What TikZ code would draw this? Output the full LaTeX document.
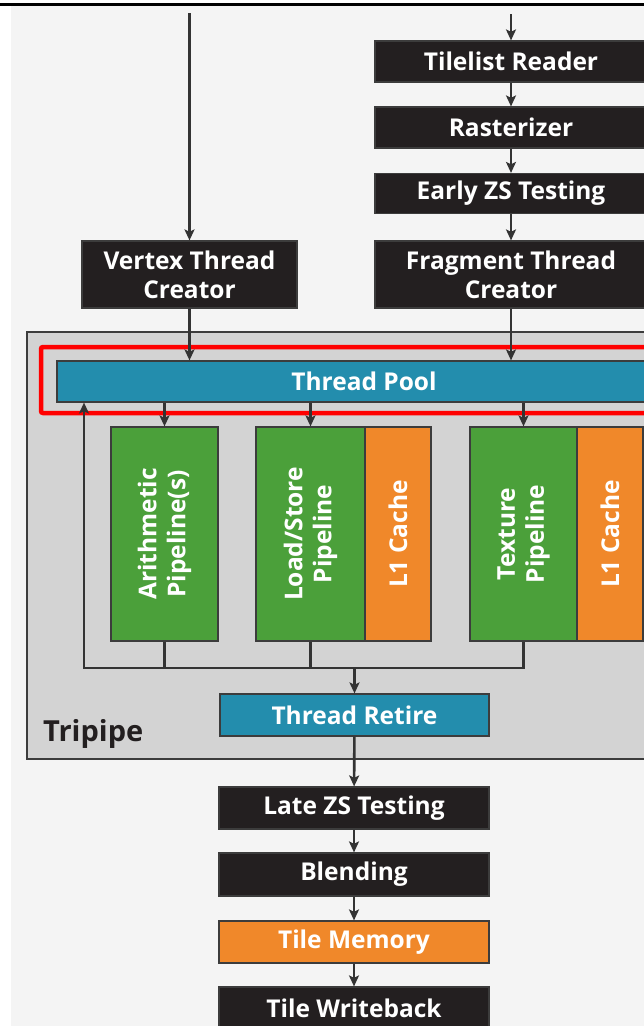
\documentclass[tikz,border=0pt]{standalone}
\usepackage{fontspec}
\setmainfont{Open Sans}
\usetikzlibrary{arrows.meta}
\definecolor{bg}{HTML}{F4F4F4}
\definecolor{boxdark}{HTML}{231F20}
\definecolor{pipegreen}{HTML}{4BA03A}
\definecolor{cacheorange}{HTML}{F0882A}
\definecolor{poolteal}{HTML}{238DAD}
\definecolor{tripipefill}{HTML}{D3D3D3}
\definecolor{edgegray}{HTML}{3C3C3C}
\definecolor{linegray}{HTML}{333333}
\newcommand{\boxfont}{\bfseries\fontsize{24.5}{29}\selectfont}
\tikzset{
  box/.style={draw=edgegray, line width=1.2pt, inner sep=0pt, align=center,
    text=white, font=\boxfont},
  darkbox/.style={box, fill=boxdark},
  tealbox/.style={box, fill=poolteal},
  orangebox/.style={box, fill=cacheorange},
  greenbox/.style={box, fill=pipegreen},
  vlabel/.style={rotate=90, text=white, font=\boxfont, align=center, inner sep=0pt},
  conn/.style={draw=linegray, line width=2.6pt},
  arr/.style={conn, -{Stealth[length=11pt,width=10pt,inset=2.5pt]}},
}
\begin{document}
\begin{tikzpicture}[x=1pt,y=-1pt]
\useasboundingbox (0,0) rectangle (644,1026);
\clip (0,0) rectangle (644,1026);
% page background
\fill[white] (0,0) rectangle (644,1026);
\fill[bg] (11,6) rectangle (644,1026);
\draw[black, line width=3pt] (0,4.5) -- (644,4.5);
% Tripipe region
\draw[draw=edgegray, fill=tripipefill, line width=2pt] (27,332) rectangle (720,759);
\node[anchor=base west, text=boxdark, font=\bfseries\fontsize{29}{34}\selectfont, inner sep=0pt] (tripipe) at (43,741) {Tripipe};
% highlight
\draw[red, line width=4.5pt, rounded corners=2pt] (41,347) rectangle (700,413);
% nodes
\node[darkbox, minimum width=272pt, minimum height=41pt] (tilelist) at (511,61.5) {Tilelist Reader};
\node[darkbox, minimum width=272pt, minimum height=41pt] (raster) at (511,127.5) {Rasterizer};
\node[darkbox, minimum width=272pt, minimum height=40pt] (early) at (511,193.5) {Early ZS Testing};
\node[darkbox, minimum width=272pt, minimum height=67pt] (frag) at (511,274.5) {Fragment Thread\\Creator};
\node[darkbox, minimum width=215pt, minimum height=67pt] (vtc) at (189.5,274.5) {Vertex Thread\\Creator};
\node[tealbox, minimum width=614pt, minimum height=41pt] (pool) at (364,381.5) {Thread Pool};
\node[greenbox, minimum width=107pt, minimum height=214pt] (arith) at (164.5,534) {};
\node[vlabel] at (arith.center) {Arithmetic\\Pipeline(s)};
\node[greenbox, minimum width=109pt, minimum height=214pt] (ls) at (310.5,534) {};
\node[vlabel] at (ls.center) {Load/Store\\Pipeline};
\node[orangebox, minimum width=66pt, minimum height=214pt] (cacheA) at (398,534) {};
\node[vlabel] at (cacheA.center) {L1 Cache};
\node[greenbox, minimum width=107pt, minimum height=214pt] (tex) at (523.5,534) {};
\node[vlabel] at (tex.center) {Texture\\Pipeline};
\node[orangebox, minimum width=66pt, minimum height=214pt] (cacheB) at (610,534) {};
\node[vlabel] at (cacheB.center) {L1 Cache};
\node[tealbox, minimum width=269pt, minimum height=42pt] (retire) at (354.5,715) {Thread Retire};
\node[darkbox, minimum width=270pt, minimum height=42pt] (late) at (354,808) {Late ZS Testing};
\node[darkbox, minimum width=270pt, minimum height=43pt] (blend) at (354,874.5) {Blending};
\node[orangebox, minimum width=270pt, minimum height=42pt] (tmem) at (354,942) {Tile Memory};
\node[darkbox, minimum width=270pt, minimum height=42pt] (twb) at (354,1008) {Tile Writeback};
% coordinates
\coordinate (vin) at (189.5,13);
\coordinate (fin) at (511,14);
\coordinate (loopL) at (84,668);
\coordinate (loopR) at (523.5,668);
\coordinate (merge) at (354.5,668);
% connectors
\draw[arr] (vin) -- (vtc.north);
\draw[arr] (fin) -- (tilelist.north);
\draw[arr] (tilelist) -- (raster);
\draw[arr] (raster) -- (early);
\draw[arr] (early) -- (frag);
\draw[arr] (vtc.south) -- (vtc.south |- pool.north);
\draw[arr] (frag.south) -- (frag.south |- pool.north);
\draw[arr] (arith.north |- pool.south) -- (arith.north);
\draw[arr] (ls.north |- pool.south) -- (ls.north);
\draw[arr] (tex.north |- pool.south) -- (tex.north);
\draw[conn] (arith.south) -- (arith.south |- loopL);
\draw[conn] (ls.south) -- (ls.south |- loopL);
\draw[conn] (tex.south) -- (loopR);
\draw[conn, line cap=rect] (loopL) -- (loopR);
\draw[arr] (loopL) -- (loopL |- pool.south);
\draw[arr] (merge) -- (retire.north);
\draw[arr] (retire) -- (late);
\draw[arr] (late) -- (blend);
\draw[arr] (blend) -- (tmem);
\draw[arr] (tmem) -- (twb);
\end{tikzpicture}
\end{document}
